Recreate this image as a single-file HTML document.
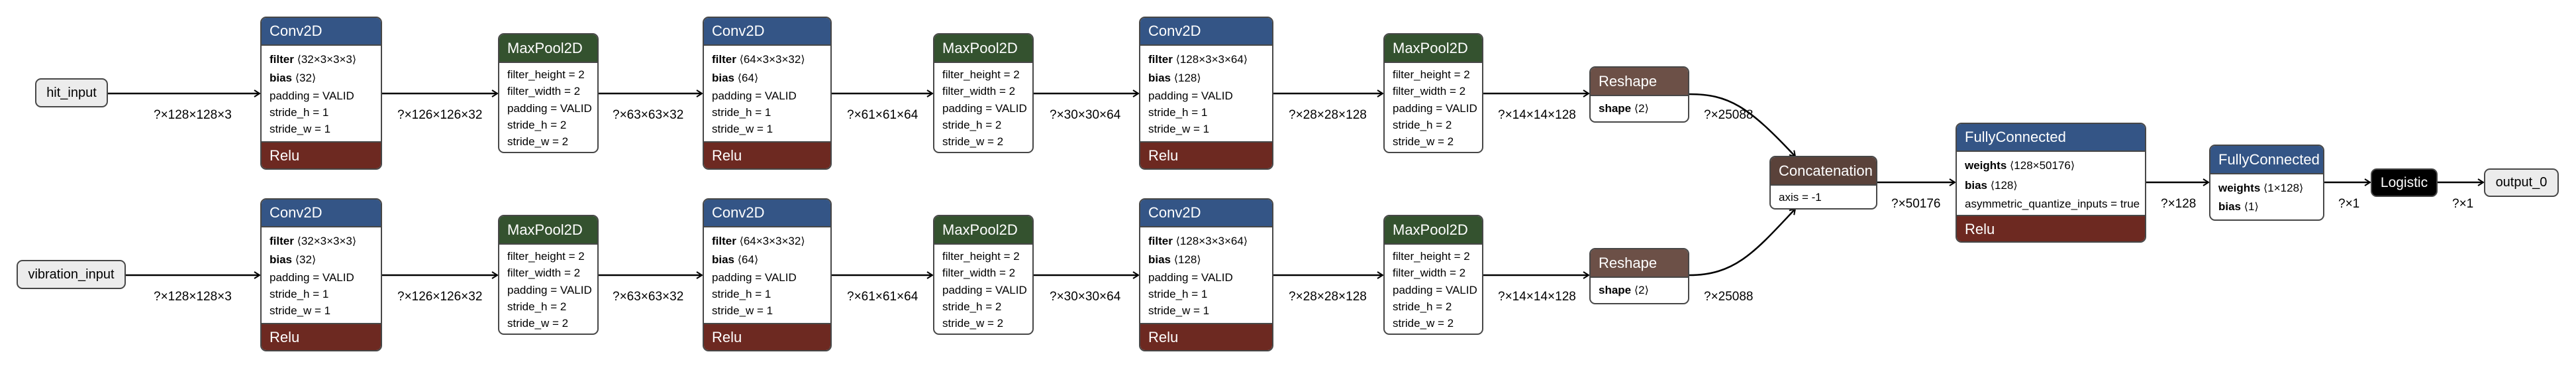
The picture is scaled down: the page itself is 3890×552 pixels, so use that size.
<!DOCTYPE html>
<html><head><meta charset="utf-8"><style>
html,body{margin:0;padding:0;background:#fff;}
body{width:3890px;height:552px;position:relative;overflow:hidden;font-family:"Liberation Sans","DejaVu Sans",sans-serif;color:#000;}
.n{position:absolute;box-sizing:border-box;border:2px solid #474747;border-radius:9px;overflow:hidden;background:#fff;}
.h{color:#fff;font-size:22px;padding-left:12px;box-sizing:border-box;border-bottom:2px solid #474747;}
.conv{background:#345586}
.pool{background:#34522f}
.relu{background:#6d2921;color:#fff;font-size:22px;padding-left:12px;box-sizing:border-box;border-top:2px solid #474747;}
.resh{background:#6c5047}
.cat{background:#5a423a}
.r{font-size:17px;padding-left:12px;white-space:nowrap;}
.r b{font-weight:bold}
.io{position:absolute;box-sizing:border-box;border:2px solid #474747;border-radius:9px;background:#ececec;font-size:20px;text-align:center;}
.lbl{position:absolute;font-size:19px;white-space:nowrap;}
.ang{font-family:"DejaVu Sans",sans-serif;font-size:16px}
</style></head><body>
<svg width="3890" height="552" style="position:absolute;left:0;top:0" xmlns="http://www.w3.org/2000/svg">
<defs><marker id="a" markerWidth="12" markerHeight="12" refX="10" refY="6" orient="auto" markerUnits="userSpaceOnUse"><path d="M2,1 L10,6 L2,11" fill="none" stroke="#000" stroke-width="2"/></marker></defs>
<g stroke="#000" stroke-width="2.5" fill="none" marker-end="url(#a)">
<line x1="163" y1="141" x2="392" y2="141"/><line x1="577" y1="141" x2="751" y2="141"/><line x1="904" y1="141" x2="1060" y2="141"/><line x1="1256" y1="141" x2="1408" y2="141"/><line x1="1561" y1="141" x2="1719" y2="141"/><line x1="1923" y1="141" x2="2088" y2="141"/><line x1="2240" y1="141" x2="2399" y2="141"/>
<line x1="190" y1="415" x2="392" y2="415"/><line x1="577" y1="415" x2="751" y2="415"/><line x1="904" y1="415" x2="1060" y2="415"/><line x1="1256" y1="415" x2="1408" y2="415"/><line x1="1561" y1="415" x2="1719" y2="415"/><line x1="1923" y1="415" x2="2088" y2="415"/><line x1="2240" y1="415" x2="2399" y2="415"/>
<path d="M2551,142 C2610,142 2640,160 2711,236"/>
<path d="M2551,415 C2620,415 2650,380 2711,315"/>
<line x1="2835" y1="275" x2="2952" y2="275"/><line x1="3241" y1="275" x2="3335" y2="275"/><line x1="3510" y1="275" x2="3579" y2="275"/><line x1="3681" y1="275" x2="3750" y2="275"/>
</g></svg>

<div class="io" style="left:53px;top:118px;width:110px;height:44px;line-height:40px">hit_input</div>
<div class="io" style="left:25px;top:392px;width:165px;height:44px;line-height:40px">vibration_input</div>

<!-- top row -->
<div class="n" style="left:393px;top:25px;width:184px;height:231px"><div class="h conv" style="height:42px;line-height:40px">Conv2D</div><div style="height:144px;padding-top:7px;box-sizing:border-box"><div class="r" style="line-height:28px"><b>filter</b> <span class="ang">⟨</span>32×3×3×3<span class="ang">⟩</span></div><div class="r" style="line-height:28px"><b>bias</b> <span class="ang">⟨</span>32<span class="ang">⟩</span></div><div class="r" style="line-height:25px">padding = VALID</div><div class="r" style="line-height:25px">stride_h = 1</div><div class="r" style="line-height:25px">stride_w = 1</div></div><div class="relu" style="height:43px;line-height:40px">Relu</div></div>
<div class="n" style="left:752px;top:50px;width:152px;height:181px"><div class="h pool" style="height:43px;line-height:41px">MaxPool2D</div><div style="padding-top:5px"><div class="r" style="line-height:25.3px">filter_height = 2</div><div class="r" style="line-height:25.3px">filter_width = 2</div><div class="r" style="line-height:25.3px">padding = VALID</div><div class="r" style="line-height:25.3px">stride_h = 2</div><div class="r" style="line-height:25.3px">stride_w = 2</div></div></div>
<div class="n" style="left:1061px;top:25px;width:195px;height:231px"><div class="h conv" style="height:42px;line-height:40px">Conv2D</div><div style="height:144px;padding-top:7px;box-sizing:border-box"><div class="r" style="line-height:28px"><b>filter</b> <span class="ang">⟨</span>64×3×3×32<span class="ang">⟩</span></div><div class="r" style="line-height:28px"><b>bias</b> <span class="ang">⟨</span>64<span class="ang">⟩</span></div><div class="r" style="line-height:25px">padding = VALID</div><div class="r" style="line-height:25px">stride_h = 1</div><div class="r" style="line-height:25px">stride_w = 1</div></div><div class="relu" style="height:43px;line-height:40px">Relu</div></div>
<div class="n" style="left:1409px;top:50px;width:152px;height:181px"><div class="h pool" style="height:43px;line-height:41px">MaxPool2D</div><div style="padding-top:5px"><div class="r" style="line-height:25.3px">filter_height = 2</div><div class="r" style="line-height:25.3px">filter_width = 2</div><div class="r" style="line-height:25.3px">padding = VALID</div><div class="r" style="line-height:25.3px">stride_h = 2</div><div class="r" style="line-height:25.3px">stride_w = 2</div></div></div>
<div class="n" style="left:1720px;top:25px;width:203px;height:231px"><div class="h conv" style="height:42px;line-height:40px">Conv2D</div><div style="height:144px;padding-top:7px;box-sizing:border-box"><div class="r" style="line-height:28px"><b>filter</b> <span class="ang">⟨</span>128×3×3×64<span class="ang">⟩</span></div><div class="r" style="line-height:28px"><b>bias</b> <span class="ang">⟨</span>128<span class="ang">⟩</span></div><div class="r" style="line-height:25px">padding = VALID</div><div class="r" style="line-height:25px">stride_h = 1</div><div class="r" style="line-height:25px">stride_w = 1</div></div><div class="relu" style="height:43px;line-height:40px">Relu</div></div>
<div class="n" style="left:2089px;top:50px;width:151px;height:181px"><div class="h pool" style="height:43px;line-height:41px">MaxPool2D</div><div style="padding-top:5px"><div class="r" style="line-height:25.3px">filter_height = 2</div><div class="r" style="line-height:25.3px">filter_width = 2</div><div class="r" style="line-height:25.3px">padding = VALID</div><div class="r" style="line-height:25.3px">stride_h = 2</div><div class="r" style="line-height:25.3px">stride_w = 2</div></div></div>
<div class="n" style="left:2400px;top:100px;width:151px;height:85px"><div class="h resh" style="height:43px;line-height:41px">Reshape</div><div class="r" style="line-height:38px"><b>shape</b> <span class="ang">⟨</span>2<span class="ang">⟩</span></div></div>

<!-- bottom row -->
<div class="n" style="left:393px;top:299px;width:184px;height:231px"><div class="h conv" style="height:42px;line-height:40px">Conv2D</div><div style="height:144px;padding-top:7px;box-sizing:border-box"><div class="r" style="line-height:28px"><b>filter</b> <span class="ang">⟨</span>32×3×3×3<span class="ang">⟩</span></div><div class="r" style="line-height:28px"><b>bias</b> <span class="ang">⟨</span>32<span class="ang">⟩</span></div><div class="r" style="line-height:25px">padding = VALID</div><div class="r" style="line-height:25px">stride_h = 1</div><div class="r" style="line-height:25px">stride_w = 1</div></div><div class="relu" style="height:43px;line-height:40px">Relu</div></div>
<div class="n" style="left:752px;top:324px;width:152px;height:181px"><div class="h pool" style="height:43px;line-height:41px">MaxPool2D</div><div style="padding-top:5px"><div class="r" style="line-height:25.3px">filter_height = 2</div><div class="r" style="line-height:25.3px">filter_width = 2</div><div class="r" style="line-height:25.3px">padding = VALID</div><div class="r" style="line-height:25.3px">stride_h = 2</div><div class="r" style="line-height:25.3px">stride_w = 2</div></div></div>
<div class="n" style="left:1061px;top:299px;width:195px;height:231px"><div class="h conv" style="height:42px;line-height:40px">Conv2D</div><div style="height:144px;padding-top:7px;box-sizing:border-box"><div class="r" style="line-height:28px"><b>filter</b> <span class="ang">⟨</span>64×3×3×32<span class="ang">⟩</span></div><div class="r" style="line-height:28px"><b>bias</b> <span class="ang">⟨</span>64<span class="ang">⟩</span></div><div class="r" style="line-height:25px">padding = VALID</div><div class="r" style="line-height:25px">stride_h = 1</div><div class="r" style="line-height:25px">stride_w = 1</div></div><div class="relu" style="height:43px;line-height:40px">Relu</div></div>
<div class="n" style="left:1409px;top:324px;width:152px;height:181px"><div class="h pool" style="height:43px;line-height:41px">MaxPool2D</div><div style="padding-top:5px"><div class="r" style="line-height:25.3px">filter_height = 2</div><div class="r" style="line-height:25.3px">filter_width = 2</div><div class="r" style="line-height:25.3px">padding = VALID</div><div class="r" style="line-height:25.3px">stride_h = 2</div><div class="r" style="line-height:25.3px">stride_w = 2</div></div></div>
<div class="n" style="left:1720px;top:299px;width:203px;height:231px"><div class="h conv" style="height:42px;line-height:40px">Conv2D</div><div style="height:144px;padding-top:7px;box-sizing:border-box"><div class="r" style="line-height:28px"><b>filter</b> <span class="ang">⟨</span>128×3×3×64<span class="ang">⟩</span></div><div class="r" style="line-height:28px"><b>bias</b> <span class="ang">⟨</span>128<span class="ang">⟩</span></div><div class="r" style="line-height:25px">padding = VALID</div><div class="r" style="line-height:25px">stride_h = 1</div><div class="r" style="line-height:25px">stride_w = 1</div></div><div class="relu" style="height:43px;line-height:40px">Relu</div></div>
<div class="n" style="left:2089px;top:324px;width:151px;height:181px"><div class="h pool" style="height:43px;line-height:41px">MaxPool2D</div><div style="padding-top:5px"><div class="r" style="line-height:25.3px">filter_height = 2</div><div class="r" style="line-height:25.3px">filter_width = 2</div><div class="r" style="line-height:25.3px">padding = VALID</div><div class="r" style="line-height:25.3px">stride_h = 2</div><div class="r" style="line-height:25.3px">stride_w = 2</div></div></div>
<div class="n" style="left:2400px;top:374px;width:151px;height:85px"><div class="h resh" style="height:43px;line-height:41px">Reshape</div><div class="r" style="line-height:38px"><b>shape</b> <span class="ang">⟨</span>2<span class="ang">⟩</span></div></div>

<!-- merge -->
<div class="n" style="left:2672px;top:235px;width:163px;height:81px"><div class="h cat" style="height:43px;line-height:41px">Concatenation</div><div class="r" style="line-height:36px">axis = -1</div></div>
<div class="n" style="left:2953px;top:185px;width:288px;height:181px"><div class="h conv" style="height:42px;line-height:40px">FullyConnected</div><div style="height:95px;padding-top:6px;box-sizing:border-box"><div class="r" style="line-height:30px"><b>weights</b> <span class="ang">⟨</span>128×50176<span class="ang">⟩</span></div><div class="r" style="line-height:29px"><b>bias</b> <span class="ang">⟨</span>128<span class="ang">⟩</span></div><div class="r" style="line-height:27px">asymmetric_quantize_inputs = true</div></div><div class="relu" style="height:42px;line-height:39px">Relu</div></div>
<div class="n" style="left:3336px;top:218px;width:174px;height:115px"><div class="h conv" style="height:43px;line-height:41px">FullyConnected</div><div style="padding-top:7px"><div class="r" style="line-height:28px"><b>weights</b> <span class="ang">⟨</span>1×128<span class="ang">⟩</span></div><div class="r" style="line-height:28px"><b>bias</b> <span class="ang">⟨</span>1<span class="ang">⟩</span></div></div></div>
<div class="io" style="left:3580px;top:254px;width:101px;height:43px;line-height:39px;background:#000;color:#fff;font-size:21px">Logistic</div>
<div class="io" style="left:3751px;top:254px;width:113px;height:43px;line-height:39px">output_0</div>

<!-- labels -->
<div class="lbl" style="left:232px;top:163px">?×128×128×3</div>
<div class="lbl" style="left:600px;top:163px">?×126×126×32</div>
<div class="lbl" style="left:925px;top:163px">?×63×63×32</div>
<div class="lbl" style="left:1279px;top:163px">?×61×61×64</div>
<div class="lbl" style="left:1585px;top:163px">?×30×30×64</div>
<div class="lbl" style="left:1946px;top:163px">?×28×28×128</div>
<div class="lbl" style="left:2262px;top:163px">?×14×14×128</div>
<div class="lbl" style="left:2573px;top:163px">?×25088</div>
<div class="lbl" style="left:232px;top:437px">?×128×128×3</div>
<div class="lbl" style="left:600px;top:437px">?×126×126×32</div>
<div class="lbl" style="left:925px;top:437px">?×63×63×32</div>
<div class="lbl" style="left:1279px;top:437px">?×61×61×64</div>
<div class="lbl" style="left:1585px;top:437px">?×30×30×64</div>
<div class="lbl" style="left:1946px;top:437px">?×28×28×128</div>
<div class="lbl" style="left:2262px;top:437px">?×14×14×128</div>
<div class="lbl" style="left:2573px;top:437px">?×25088</div>
<div class="lbl" style="left:2856px;top:297px">?×50176</div>
<div class="lbl" style="left:3263px;top:297px">?×128</div>
<div class="lbl" style="left:3531px;top:297px">?×1</div>
<div class="lbl" style="left:3703px;top:297px">?×1</div>
</body></html>
